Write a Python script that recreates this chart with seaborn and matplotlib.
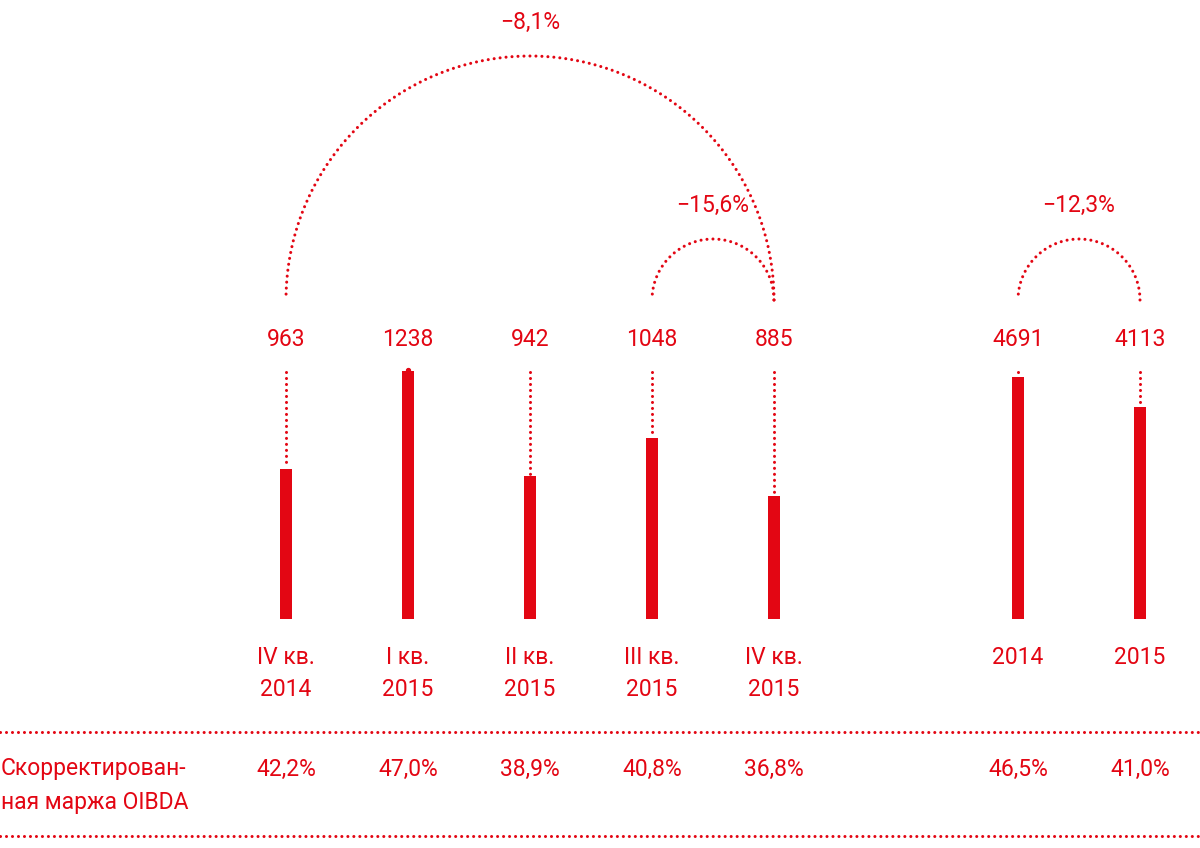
import numpy as np
import pandas as pd
import matplotlib
matplotlib.use("Agg")
import matplotlib.pyplot as plt
import seaborn as sns

# ---- data ----
quarters = ["IV кв.\n2014", "I кв.\n2015", "II кв.\n2015", "III кв.\n2015", "IV кв.\n2015"]
quarter_oibda = [963, 1238, 942, 1048, 885]
years = ["2014", "2015"]
year_oibda = [4691, 4113]
margins = ["42,2%", "47,0%", "38,9%", "40,8%", "36,8%", "46,5%", "41,0%"]
change_pairs = [(0, 4), (3, 4), (5, 6)]
change_labels = ["−8,1%", "−15,6%", "−12,3%"]
row_label = ["Скорректирован-", "ная маржа OIBDA"]

# ---- style ----
sns.set_theme(style="white")
plt.rcParams['font.family'] = ['Roboto', 'DejaVu Sans']
RED = "#E30613"
FS = 16.5
FW = "normal"
W, H = 1200, 848
PX_PER_UNIT = 122.0
X0 = 286.0
BASE = 619.0

fig = plt.figure(figsize=(W / 100, H / 100), dpi=100)
fig.patch.set_facecolor("white")
ax_q = fig.add_axes([0, (H - BASE) / H, 1, BASE / H])
ax_a = ax_q.twinx()
ov = fig.add_axes([0, 0, 1, 1])
ov.set_facecolor("none")

xlim = (-X0 / PX_PER_UNIT, (W - X0) / PX_PER_UNIT)

xq = np.arange(len(quarters))
xa = len(quarters) + 1 + np.arange(len(years))
dq = pd.DataFrame({"x": xq, "v": quarter_oibda})
da = pd.DataFrame({"x": xa, "v": year_oibda})

sns.barplot(data=dq, x="x", y="v", ax=ax_q, color=RED, width=0.1,
            native_scale=True, saturation=1, linewidth=0)
sns.barplot(data=da, x="x", y="v", ax=ax_a, color=RED, width=0.1,
            native_scale=True, saturation=1, linewidth=0)

q_lo, q_scale = 538.0, 0.354
a_lo, a_scale = 0.0, 0.0516
ax_q.set_ylim(q_lo, q_lo + BASE / q_scale)
ax_a.set_ylim(a_lo, a_lo + BASE / a_scale)
for a in (ax_q, ax_a, ov):
    a.set_xlim(*xlim)
    a.axis("off")
ov.set_ylim(H, 0)

dot_kw = dict(color=RED, lw=2.2, linestyle=(0, (0.01, 1.95)),
              dash_capstyle="round", solid_capstyle="round")

def top_px(ax, x, v):
    disp = ax.transData.transform((x, v))
    return H - disp[1]

all_x = list(xq) + list(xa)
all_v = list(quarter_oibda) + list(year_oibda)
all_ax = [ax_q] * len(xq) + [ax_a] * len(xa)

txt = dict(ha="center", va="center", color=RED, fontsize=FS, fontweight=FW)

LINE_TOP = 372
for x, v, a in zip(all_x, all_v, all_ax):
    t = top_px(a, x, v)
    if t - LINE_TOP > 3:
        ov.plot([x, x], [LINE_TOP, t - 2], **dot_kw)
    else:
        ov.plot([x], [LINE_TOP - 2], marker="o", ms=2.8, color=RED, lw=0)
    ov.text(x, 339, f"{v}", **txt)

# category labels
for x, lab in zip(xq, quarters):
    l1, l2 = lab.split("\n")
    ov.text(x, 657, l1, **txt)
    ov.text(x, 690, l2, **txt)
for x, lab in zip(xa, years):
    ov.text(x, 657, lab, **txt)

# margin row
ov.plot([xlim[0], xlim[1]], [732, 732], **dot_kw)
ov.plot([xlim[0], xlim[1]], [836, 836], **dot_kw)
for x, m in zip(all_x, margins):
    ov.text(x, 769, m, **txt)
left = dict(txt, ha="left")
ov.text(xlim[0] + 1 / PX_PER_UNIT, 769, row_label[0], **left)
ov.text(xlim[0] + 1 / PX_PER_UNIT, 803, row_label[1], **left)

# arcs
ARC_BASE = 300
theta = np.linspace(0, np.pi, 400)
for (i, j), lab in zip(change_pairs, change_labels):
    x1, x2 = all_x[i], all_x[j]
    cx = (x1 + x2) / 2
    r = (x2 - x1) / 2
    r_px = r * PX_PER_UNIT
    xs = cx + r * np.cos(theta)
    ys = ARC_BASE - r_px * np.sin(theta)
    ov.plot(xs, ys, **dot_kw)
    ov.text(cx, ARC_BASE - r_px - 34, lab, **txt)

fig.savefig("out.png", dpi=100, facecolor="white")
